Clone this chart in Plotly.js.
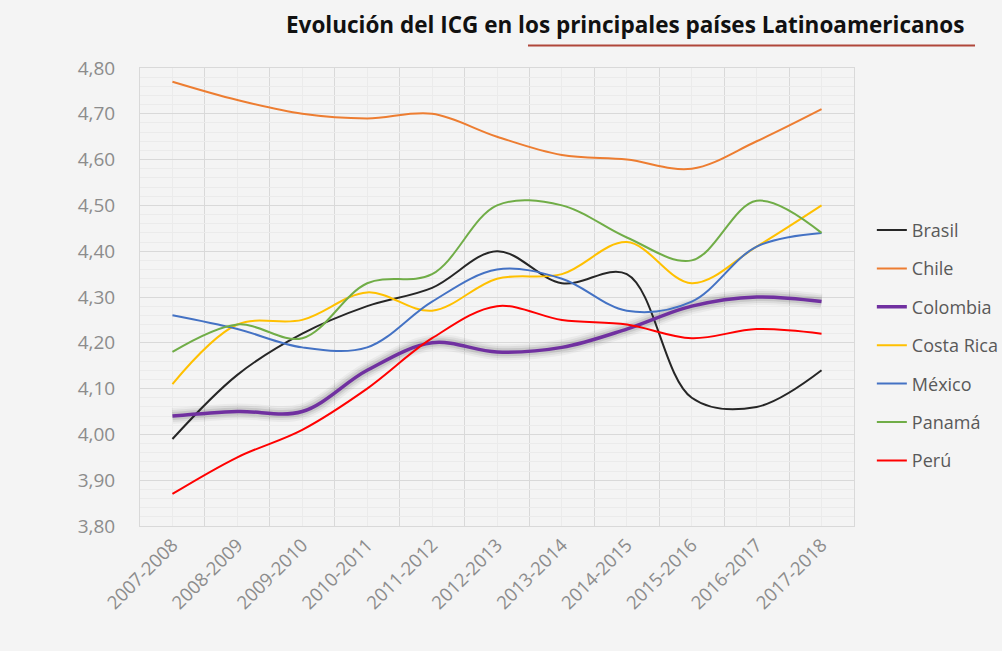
<!DOCTYPE html>
<html>
<head>
<meta charset="utf-8">
<script src="https://cdn.plot.ly/plotly-3.0.1.min.js"></script>
<style>
  html, body { margin: 0; padding: 0; background: #f4f4f4; }
  #chart { width: 1002px; height: 651px; }
</style>
</head>
<body>
<div id="chart"></div>
<script>
const periods = ["2007-2008","2008-2009","2009-2010","2010-2011","2011-2012","2012-2013","2013-2014","2014-2015","2015-2016","2016-2017","2017-2018"];
const brasil    = [3.99, 4.13, 4.22, 4.28, 4.32, 4.40, 4.33, 4.35, 4.08, 4.06, 4.14];
const chile     = [4.77, 4.73, 4.70, 4.69, 4.70, 4.65, 4.61, 4.60, 4.58, 4.64, 4.71];
const colombia  = [4.04, 4.05, 4.05, 4.14, 4.20, 4.18, 4.19, 4.23, 4.28, 4.30, 4.29];
const costaRica = [4.11, 4.24, 4.25, 4.31, 4.27, 4.34, 4.35, 4.42, 4.33, 4.41, 4.50];
const mexico    = [4.26, 4.23, 4.19, 4.19, 4.29, 4.36, 4.34, 4.27, 4.29, 4.41, 4.44];
const panama    = [4.18, 4.24, 4.21, 4.33, 4.35, 4.50, 4.50, 4.43, 4.38, 4.51, 4.44];
const peru      = [3.87, 3.95, 4.01, 4.10, 4.21, 4.28, 4.25, 4.24, 4.21, 4.23, 4.22];
const yTicks    = [3.8, 3.9, 4.0, 4.1, 4.2, 4.3, 4.4, 4.5, 4.6, 4.7, 4.8];

const idx = periods.map((_, i) => i);

const series = [
  {name: "Brasil", y: brasil, color: "#262626", width: 2},
  {name: "Chile", y: chile, color: "#ED7D31", width: 2},
  {name: "Colombia", y: colombia, color: "#7030A0", width: 3.5},
  {name: "Costa Rica", y: costaRica, color: "#FFC000", width: 2},
  {name: "México", y: mexico, color: "#4472C4", width: 2},
  {name: "Panamá", y: panama, color: "#70AD47", width: 2},
  {name: "Perú", y: peru, color: "#FF0000", width: 2}
];

const traces = [];
// soft shadow under Colombia
[[16, 0.04], [12, 0.06], [8, 0.09]].forEach(([w, a]) => {
  traces.push({
    x: idx, y: colombia, type: "scatter", mode: "lines",
    line: {color: `rgba(0,0,0,${a})`, width: w, shape: "spline", smoothing: 1},
    showlegend: false, hoverinfo: "skip"
  });
});
series.forEach(s => {
  traces.push({
    x: idx, y: s.y, type: "scatter", mode: "lines", name: s.name,
    legendgroup: s.name,
    line: {color: s.color, width: s.width, shape: "spline", smoothing: 1}
  });
});

const layout = {
  width: 1002, height: 651,
  paper_bgcolor: "#f4f4f4", plot_bgcolor: "#f4f4f4",
  margin: {l: 140, r: 148, t: 68, b: 125, autoexpand: false},
  separators: ",.",
  font: {family: "Open Sans, sans-serif", color: "#7f7f7f"},
  title: {
    text: "<b>Evolución del ICG en los principales países Latinoamericanos</b>",
    font: {family: "Open Sans, sans-serif", size: 22.5, color: "#111111"},
    x: 0.624, xanchor: "center", xref: "container",
    y: 0.962, yanchor: "middle", yref: "container"
  },
  xaxis: {
    type: "linear", range: [-0.5, 10.5],
    tickmode: "array", tickvals: idx, ticktext: periods,
    tickangle: -45, tickfont: {size: 18.5, color: "#8c8c8c"},
    showgrid: true, gridcolor: "#ebebeb", gridwidth: 1,
    minor: {tickmode: "linear", tick0: 0.5, dtick: 1, showgrid: true, gridcolor: "#d9d9d9", gridwidth: 1},
    zeroline: false, showline: true, linecolor: "#d9d9d9", mirror: true,
    ticks: "", automargin: false, fixedrange: true
  },
  yaxis: {
    range: [3.8, 4.8], tickmode: "array", tickvals: yTicks, tickformat: ".2f",
    tickfont: {size: 19, color: "#8c8c8c"},
    showgrid: true, gridcolor: "#d9d9d9", gridwidth: 1,
    minor: {tickmode: "linear", tick0: 3.8, dtick: 0.02, showgrid: true, gridcolor: "#ebebeb", gridwidth: 1},
    zeroline: false, showline: true, linecolor: "#d9d9d9", mirror: true,
    ticks: "", ticklabelstandoff: 20, automargin: false, fixedrange: true
  },
  legend: {
    x: 1.025, xanchor: "left", y: 0.686, yanchor: "top",
    traceorder: "grouped", tracegroupgap: 12,
    bgcolor: "rgba(0,0,0,0)", borderwidth: 0,
    font: {size: 18, color: "#595959"}
  },
  shapes: [{
    type: "line", xref: "paper", yref: "paper",
    x0: 0.5434, x1: 1.1695, y0: 1.049, y1: 1.049,
    line: {color: "#B0473A", width: 2}
  }],
  showlegend: true
};

Plotly.newPlot("chart", traces, layout, {displayModeBar: false, staticPlot: true});
</script>
</body>
</html>
